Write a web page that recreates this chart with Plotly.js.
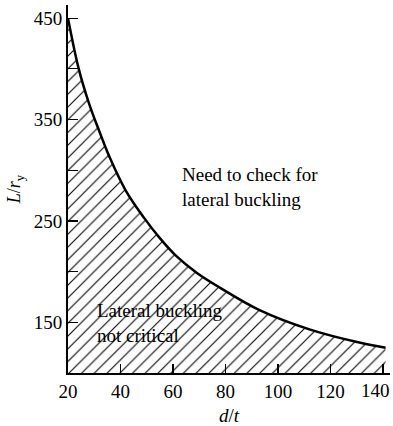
<!DOCTYPE html>
<html>
<head>
<meta charset="utf-8">
<script src="https://cdn.plot.ly/plotly-3.0.1.min.js"></script>
<style>html,body{margin:0;padding:0;background:#fff;}#chart{width:393px;height:426px;}</style>
</head>
<body>
<div id="chart"></div>
<script>
// d/t values along the boundary curve
const dRatio = [20, 24, 28, 32, 36, 42, 49, 55, 61, 69, 78, 93, 112, 131, 141];
// L/r_y values on the boundary curve
const lRatio = [450, 401, 366, 338, 312, 280, 253, 233, 216, 199, 184, 162, 143, 130, 125];
const xTicks = [20, 40, 60, 80, 100, 120];
const xTickText = ['20', '40', '60', '80', '100', '120'];
const xLastTick = '140';
const yTicks = [150, 250, 350, 450];
const yTickText = ['150', '250', '350', '450'];
const regionLabels = ['Need to check for<br>lateral buckling', 'Lateral buckling<br>not critical'];

const font = 'Liberation Serif, Times New Roman, serif';

const trace = {
  x: dRatio,
  y: lRatio,
  type: 'scatter',
  mode: 'lines',
  line: {color: '#000', width: 2.5, shape: 'spline', smoothing: 1},
  fill: 'tozeroy',
  fillcolor: 'white',
  fillpattern: {shape: '/', size: 9, solidity: 0.12, fgcolor: '#000', bgcolor: 'white'},
  hoverinfo: 'skip'
};

const layout = {
  width: 393, height: 426,
  margin: {l: 68, r: 3, t: 5, b: 53},
  paper_bgcolor: 'white', plot_bgcolor: 'white',
  showlegend: false,
  font: {family: font, color: '#000', size: 19},
  xaxis: {
    range: [20, 142.7], showgrid: false, zeroline: false,
    showline: true, linecolor: '#000', linewidth: 2,
    tickmode: 'array', tickvals: xTicks, ticktext: xTickText,
    ticks: 'inside', ticklen: 9, tickwidth: 1.2, tickcolor: '#000',
    minor: {tick0: 0, dtick: 20, ticks: 'inside', ticklen: 9, tickwidth: 1.2, tickcolor: '#000', showgrid: false},
    tickfont: {family: font, size: 19, color: '#000'},
    title: {text: '<i>d</i>/<i>t</i>', font: {family: font, size: 19, color: '#000'}, standoff: 12}
  },
  yaxis: {
    range: [100, 463], showgrid: false, zeroline: false,
    showline: true, linecolor: '#000', linewidth: 2,
    tickmode: 'array', tickvals: yTicks, ticktext: yTickText,
    ticks: 'inside', ticklen: 10, tickwidth: 1.2, tickcolor: '#000',
    minor: {tick0: 0, dtick: 50, ticks: 'inside', ticklen: 10, tickwidth: 1.2, tickcolor: '#000', showgrid: false},
    tickfont: {family: font, size: 19, color: '#000'},
    title: {text: '<i>L</i>/<i>r</i><sub>y</sub>', font: {family: font, size: 18, color: '#000'}, standoff: 8}
  },
  annotations: [
    {xref: 'paper', yref: 'paper', x: (180 - 68) / 322, y: (373 - 187) / 368,
     xanchor: 'left', yanchor: 'middle', align: 'left', showarrow: false,
     text: regionLabels[0], font: {family: font, size: 19, color: '#000'}},
    {xref: 'paper', yref: 'paper', x: (95 - 68) / 322, y: (373 - 323) / 368,
     xanchor: 'left', yanchor: 'middle', align: 'left', showarrow: false,
     text: regionLabels[1], font: {family: font, size: 19, color: '#000'}},
    {xref: 'paper', yref: 'paper', x: (392 - 68) / 322, y: 0, yshift: -5,
     xanchor: 'right', yanchor: 'top', showarrow: false,
     text: xLastTick, font: {family: font, size: 19, color: '#000'}}
  ]
};

Plotly.newPlot('chart', [trace], layout, {displayModeBar: false, staticPlot: true});
</script>
</body>
</html>
